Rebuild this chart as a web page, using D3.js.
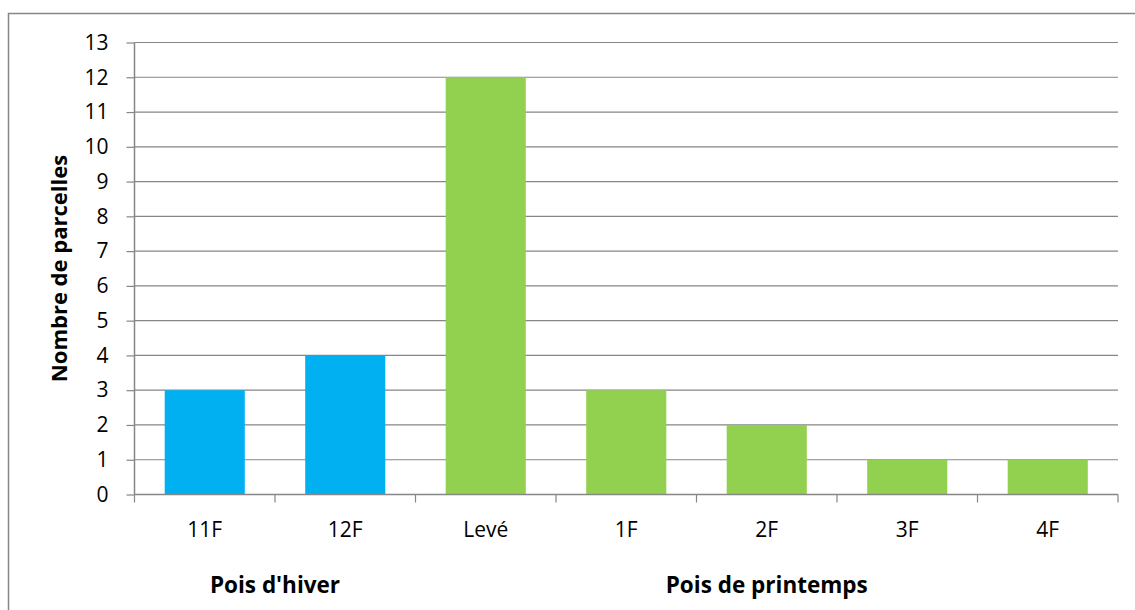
<!DOCTYPE html>
<html>
<head>
<meta charset="utf-8">
<script src="https://cdn.jsdelivr.net/npm/d3@7"></script>
<style>
body { margin: 0; background: #fff; }
text { font-family: "Open Sans", sans-serif; fill: #000; }
</style>
</head>
<body>
<svg id="graph"></svg>
<script>
var categories = ["11F", "12F", "Levé", "1F", "2F", "3F", "4F"];
var values = [3, 4, 12, 3, 2, 1, 1];
var groups = ["Pois d'hiver", "Pois d'hiver", "Pois de printemps", "Pois de printemps",
    "Pois de printemps", "Pois de printemps", "Pois de printemps"];
var groupNames = ["Pois d'hiver", "Pois de printemps"];
var groupColors = ["#00b0f0", "#92d050"];
var yTicks = d3.range(0, 14);

var width = 1135, height = 610;
var margin = {top: 42.5, right: 17, bottom: 115.5, left: 134.5};
var w = width - margin.left - margin.right;
var h = height - margin.top - margin.bottom;
var font = "'Open Sans', sans-serif";

var svg = d3.select("#graph")
    .attr("width", width)
    .attr("height", height);

// chart frame
svg.append("rect")
    .attr("x", 8.5).attr("y", 13.5)
    .attr("width", 1140).attr("height", 610)
    .attr("fill", "none").attr("stroke", "#868686").attr("stroke-width", 1.5);

var g = svg.append("g")
    .attr("transform", "translate(" + margin.left + "," + margin.top + ")");

var x = d3.scaleBand()
    .domain(categories)
    .range([0, w])
    .paddingInner(0.43)
    .paddingOuter(0.215);

var y = d3.scaleLinear()
    .domain([0, 13])
    .range([h, 0]);

var color = d3.scaleOrdinal().domain(groupNames).range(groupColors);

// gridlines
g.selectAll("line.grid")
    .data(yTicks.filter(function (d) { return d > 0; }))
    .enter().append("line")
    .attr("class", "grid")
    .attr("x1", 0).attr("x2", w)
    .attr("y1", function (d) { return y(d); })
    .attr("y2", function (d) { return y(d); })
    .attr("stroke", "#868686").attr("stroke-width", 1.2);

// bars
g.selectAll("rect.bar")
    .data(values)
    .enter().append("rect")
    .attr("class", "bar")
    .attr("x", function (d, i) { return x(categories[i]); })
    .attr("y", function (d) { return y(d); })
    .attr("width", x.bandwidth())
    .attr("height", function (d) { return h - y(d); })
    .attr("fill", function (d, i) { return color(groups[i]); });

// y axis
var yAxis = g.append("g")
    .call(d3.axisLeft(y).tickValues(yTicks).tickSize(8).tickPadding(18));
yAxis.select(".domain").attr("stroke", "#868686").attr("stroke-width", 1.5)
    .attr("d", "M0," + h + "V0");
yAxis.selectAll(".tick line").attr("stroke", "#868686").attr("stroke-width", 1.2);
yAxis.selectAll(".tick text").style("font-size", "21px")
    .style("font-family", font).attr("fill", "#000");

// x axis baseline and boundary ticks
var step = x.step();
var bounds = d3.range(0, categories.length + 1).map(function (i) { return i * step; });
g.append("line")
    .attr("x1", 0).attr("x2", w).attr("y1", h).attr("y2", h)
    .attr("stroke", "#868686").attr("stroke-width", 1.5);
g.selectAll("line.xtick")
    .data(bounds)
    .enter().append("line")
    .attr("class", "xtick")
    .attr("x1", function (d) { return d; }).attr("x2", function (d) { return d; })
    .attr("y1", h).attr("y2", h + 8)
    .attr("stroke", "#868686").attr("stroke-width", 1.2);

// category labels
g.selectAll("text.cat")
    .data(categories)
    .enter().append("text")
    .attr("class", "cat")
    .attr("x", function (d) { return x(d) + x.bandwidth() / 2; })
    .attr("y", h + 42)
    .attr("text-anchor", "middle")
    .style("font-size", "21px")
    .text(function (d) { return d; });

// group labels
var groupSpans = groupNames.map(function (name) {
    var idx = groups.map(function (gr, i) { return gr === name ? i : -1; })
        .filter(function (i) { return i >= 0; });
    return {name: name, x0: d3.min(idx) * step, x1: (d3.max(idx) + 1) * step};
});
g.selectAll("text.group")
    .data(groupSpans)
    .enter().append("text")
    .attr("class", "group")
    .attr("x", function (d) { return (d.x0 + d.x1) / 2; })
    .attr("y", h + 98)
    .attr("text-anchor", "middle")
    .style("font-size", "22.5px")
    .style("font-weight", "bold")
    .text(function (d) { return d.name; });

// y axis title
svg.append("text")
    .attr("transform", "translate(67," + (margin.top + h / 2) + ") rotate(-90)")
    .attr("text-anchor", "middle")
    .style("font-size", "22px")
    .style("font-weight", "bold")
    .text("Nombre de parcelles");
</script>
</body>
</html>
